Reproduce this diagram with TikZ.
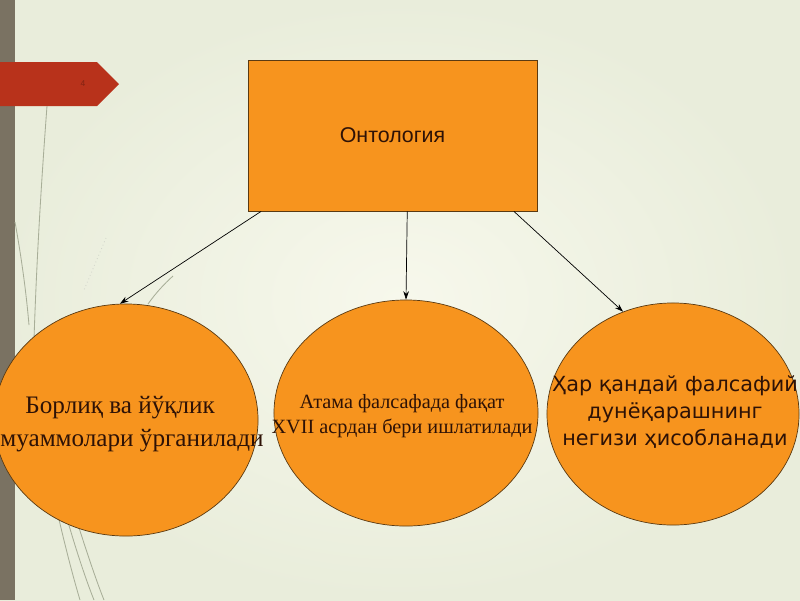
\documentclass[tikz,border=0pt]{standalone}
\usepackage{fontspec}
\setmainfont{Liberation Serif}
\newfontfamily\arialfont{Liberation Sans}
\newfontfamily\dejavufont{DejaVu Sans}
\usetikzlibrary{shapes.geometric,arrows.meta}

\definecolor{bginner}{HTML}{F7F8EC}
\definecolor{bgouter}{HTML}{E9EDDB}
\definecolor{stripcol}{HTML}{7A7262}
\definecolor{tagred}{HTML}{B8321B}
\definecolor{boxorange}{HTML}{F7941E}
\definecolor{boxline}{HTML}{5A3A12}
\definecolor{txtbrown}{HTML}{2E1206}
\definecolor{wispcol}{HTML}{A8AE98}

\tikzset{
  topicbox/.style={draw=boxline, line width=0.5pt, fill=boxorange, inner sep=0pt,
    minimum width=7.225cm, minimum height=3.775cm},
  topicoval/.style={ellipse, draw=boxline, line width=0.5pt, fill=boxorange, inner sep=0pt},
  ovaltext/.style={align=center, text=txtbrown, inner sep=0pt},
  linkarrow/.style={-{Stealth[length=6pt,width=4pt]}, line width=0.5pt, black},
  wisp/.style={draw=wispcol, line width=0.6pt}
}

\begin{document}
\begin{tikzpicture}[x=0.025cm, y=-0.025cm]
    \useasboundingbox (0,0) rectangle (800,600);
    \shade[inner color=bginner, outer color=bgouter] (0,0) rectangle (800,600);
    \fill[stripcol] (0,0) rectangle (15,600);

    \draw[wisp] (47,106) .. controls (40,200) and (34,300) .. (32,420);
    \draw[wisp] (15,222) .. controls (21,255) and (26,290) .. (29,325);
    \draw[wisp] (148,304) .. controls (155,294) and (164,284) .. (173,276);
    \draw[wisp, draw=wispcol!50, dotted] (106,238) -- (84,290);
    \draw[wisp] (58,515) .. controls (66,550) and (74,580) .. (80,600);
    \draw[wisp] (66,515) .. controls (76,550) and (86,580) .. (94,600);
    \draw[wisp] (74,512) .. controls (86,550) and (96,580) .. (104,600);

    \fill[tagred] (0,62) -- (97,62) -- (119,84) -- (97,106) -- (0,106) -- cycle;
    \node[text=tagred!70!black, font=\arialfont\fontsize{6}{7}\selectfont] (pagenum) at (83,84) {4};

    \node[topicbox, font=\arialfont\fontsize{15.2}{18}\selectfont, text=txtbrown] (onto) at (392.5,135.5) {Онтология};

    \node[topicoval, minimum width=6.6cm, minimum height=5.8cm] (borliq) at (126,420) {};
    \node[topicoval, minimum width=6.6cm, minimum height=5.65cm] (atama) at (406,413) {};
    \node[topicoval, minimum width=6.3cm, minimum height=5.55cm] (hisob) at (673,414) {};

    \node[ovaltext, font=\fontsize{17.9}{23.5}\selectfont] (borliq-text) at (132,424)
        {Борлиқ ва йўқлик\hspace*{0.94em}\\муаммолари ўрганилади};
    \node[ovaltext, font=\fontsize{14.4}{17.7}\selectfont] (atama-text) at (402,416)
        {Атама фалсафада фақат\\XVII асрдан бери ишлатилади};
    \node[ovaltext, font=\dejavufont\fontsize{14.8}{19.2}\selectfont] (hisob-text) at (675,412)
        {Ҳар қандай фалсафий\\дунёқарашнинг\\негизи ҳисобланади};

    \draw[linkarrow] (onto.210.8) -- (borliq.93);
    \draw[linkarrow] (onto.-79.9) -- (atama.north);
    \draw[linkarrow] (onto.-32.1) -- (hisob.116);
\end{tikzpicture}
\end{document}
